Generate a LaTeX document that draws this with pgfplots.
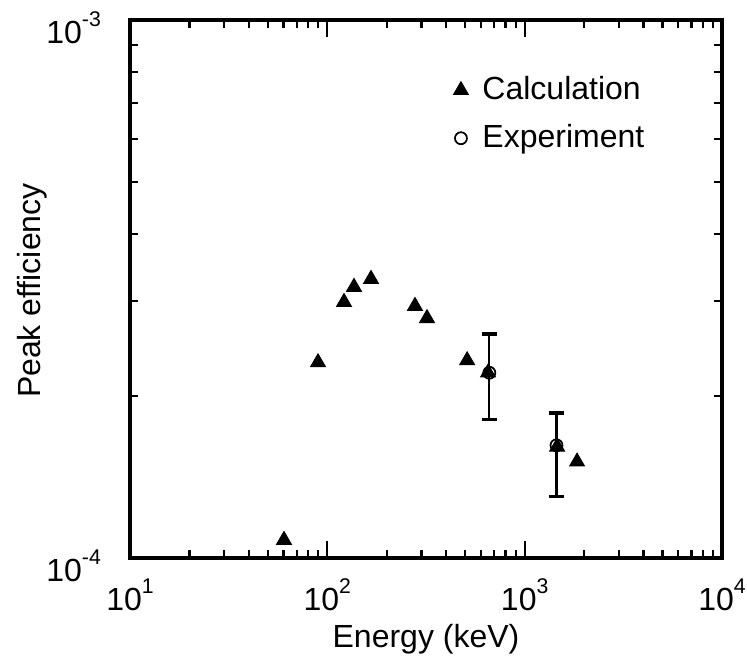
\documentclass[border=0pt]{standalone}
\usepackage{pgfplots}
\pgfplotsset{compat=1.18}
\usepackage{fontspec}
\setmainfont{Liberation Sans}
% power-of-ten tick label with a small raised exponent
\newcommand{\tl}[2]{#1\raisebox{6.5pt}{\fontsize{8.5}{9}\selectfont #2}}
\begin{document}
\fontsize{12.8}{15}\selectfont
\begin{tikzpicture}
\begin{axis}[
    name=ax,
    scale only axis,
    width=236.8pt,
    height=215.2pt,
    xmode=log, ymode=log,
    xmin=10, xmax=10000,
    ymin=1e-4, ymax=1e-3,
    xtick={10,100,1000,10000},
    xticklabels={\tl{10}{1},\tl{10}{2},\tl{10}{3},\tl{10}{4}},
    ytick={1e-4,1e-3},
    yticklabels={\tl{10}{-4},\tl{10}{-3}},
    tick align=inside,
    major tick length=7pt,
    minor tick length=3.2pt,
    every tick/.style={line width=0.9pt, black},
    axis line style={line width=1.4pt},
    tick label style={font=\fontsize{12.8}{15}\selectfont},
    xticklabel style={anchor=base, yshift=-20.8pt},
    yticklabel style={anchor=base east, yshift=-9.2pt, xshift=-7.2pt},
    xlabel={Energy (keV)},
    ylabel={Peak efficiency},
    label style={font=\fontsize{12.8}{15}\selectfont},
    xlabel style={at={(axis description cs:0.5,-0.1654)}, anchor=base},
    ylabel style={at={(axis description cs:-0.152,0.497)}, anchor=base},
    legend style={draw=none, fill=none, at={(axis description cs:0.52,0.915)},
        anchor=north west, font=\fontsize{12.8}{15}\selectfont, row sep=4pt},
    legend cell align=left,
    legend image code/.code={\draw[#1] plot coordinates {(0cm,0cm)}; \path (-0.2cm,0cm) (0.22cm,0cm);},
]
\addplot[only marks, mark=triangle*, mark size=3.4pt, black] coordinates {
    (60.3,1.08e-4)
    (89.7,2.31e-4)
    (121.5,2.99e-4)
    (136.5,3.19e-4)
    (166.5,3.30e-4)
    (278,2.94e-4)
    (320,2.79e-4)
    (511,2.33e-4)
    (652,2.21e-4)
    (1460,1.61e-4)
    (1843,1.51e-4)
};
\addlegendentry{Calculation}
\addplot[only marks, mark=o, mark size=2.4pt, black, line width=0.7pt,
    error bars/.cd, y dir=both, y explicit,
    error bar style={line width=0.9pt},
    error mark options={rotate=90, mark size=3pt, line width=1.4pt}]
    coordinates {
    (662,2.21e-4) += (0,0.40e-4) -= (0,0.40e-4)
    (1450,1.62e-4) += (0,0.24e-4) -= (0,0.32e-4)
};
\addlegendentry{Experiment}
\end{axis}
\pgfresetboundingbox
\path ([shift={(-52pt,-40.8pt)}]ax.south west) rectangle ([shift={(246.8pt,223.2pt)}]ax.south west);
\end{tikzpicture}
\end{document}
